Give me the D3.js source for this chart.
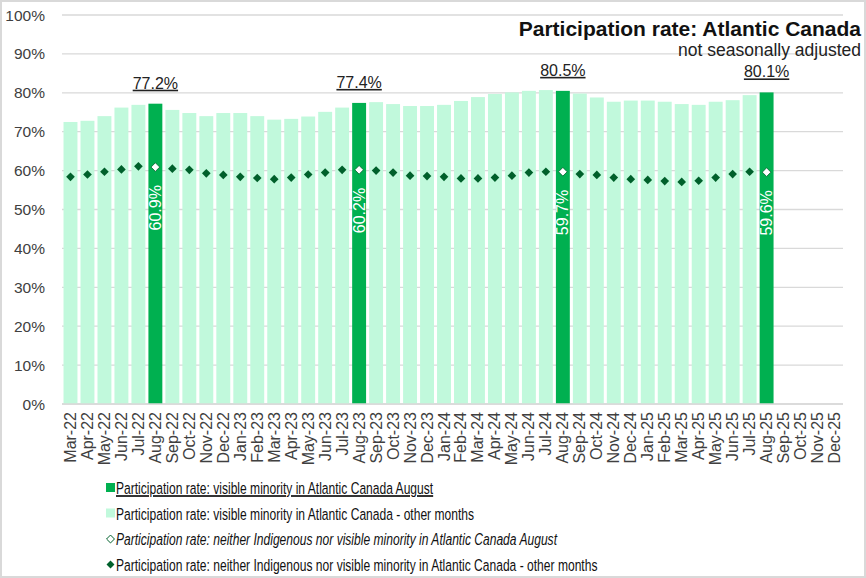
<!DOCTYPE html>
<html>
<head>
<meta charset="utf-8" />
<title>Participation rate: Atlantic Canada</title>
<script src="https://d3js.org/d3.v7.min.js"></script>
<style>
  body { margin: 0; background: #fff; }
  svg { font-family: "Liberation Sans", Arial, sans-serif; }
</style>
</head>
<body>
<script>
  // months on the x axis (Sep-25..Dec-25 have no data yet)
  const months = ["Mar-22","Apr-22","May-22","Jun-22","Jul-22","Aug-22","Sep-22","Oct-22","Nov-22","Dec-22",
    "Jan-23","Feb-23","Mar-23","Apr-23","May-23","Jun-23","Jul-23","Aug-23","Sep-23","Oct-23","Nov-23","Dec-23",
    "Jan-24","Feb-24","Mar-24","Apr-24","May-24","Jun-24","Jul-24","Aug-24","Sep-24","Oct-24","Nov-24","Dec-24",
    "Jan-25","Feb-25","Mar-25","Apr-25","May-25","Jun-25","Jul-25","Aug-25","Sep-25","Oct-25","Nov-25","Dec-25"];

  // visible minority participation rate (bars)
  const visibleMinority = [72.5,72.8,74.0,76.2,76.9,77.2,75.6,74.8,74.0,74.8,
    74.8,74.0,73.1,73.3,73.9,75.1,76.2,77.4,77.6,77.1,76.6,76.6,
    76.9,77.9,78.9,79.7,80.1,80.5,80.7,80.5,79.8,78.8,77.7,78.0,
    78.0,77.7,77.1,76.9,77.7,78.1,79.4,80.1];

  // neither Indigenous nor visible minority (diamonds)
  const neither = [58.4,59.0,59.7,60.3,61.1,60.9,60.5,60.2,59.3,58.9,
    58.4,58.1,57.8,58.2,59.0,59.5,60.2,60.2,60.0,59.5,58.7,58.6,
    58.4,58.0,58.0,58.2,58.7,59.5,59.7,59.7,59.1,58.9,58.2,57.8,
    57.6,57.3,57.1,57.4,58.2,59.1,59.7,59.6];

  const yTicks = [0,10,20,30,40,50,60,70,80,90,100];

  const legendLabels = [
    "Participation rate: visible minority in Atlantic Canada August",
    "Participation rate: visible minority in Atlantic Canada - other months",
    "Participation rate: neither Indigenous nor visible minority in Atlantic Canada August",
    "Participation rate: neither Indigenous nor visible minority in Atlantic Canada - other months"
  ];

  const W = 866, H = 578;
  const darkGreen = "#00b050", lightGreen = "#c1f9dc", markGreen = "#00602b";

  const svg = d3.select("body").append("svg")
    .attr("width", W).attr("height", H);

  // outer chart border
  svg.append("rect")
    .attr("x", 1).attr("y", 1).attr("width", W - 2).attr("height", H - 2)
    .attr("fill", "#fff").attr("stroke", "#d9d9d9").attr("stroke-width", 2);

  const x = d3.scaleBand().domain(months).range([62, 843])
    .paddingInner(0.18).paddingOuter(0.09);
  const y = d3.scaleLinear().domain([0, 100]).range([404, 15]);

  const isAug = m => m.startsWith("Aug");

  // gridlines
  svg.append("g").selectAll("line")
    .data(yTicks)
    .join("line")
    .attr("x1", 62).attr("x2", 843)
    .attr("y1", d => y(d)).attr("y2", d => y(d))
    .attr("stroke", "#d9d9d9").attr("stroke-width", 1.3);

  // y labels
  svg.append("g").selectAll("text")
    .data(yTicks)
    .join("text")
    .attr("x", 45).attr("y", d => y(d) + 5.5)
    .attr("text-anchor", "end")
    .attr("font-size", 15.5).attr("fill", "#404040")
    .text(d => d + "%");

  // bars
  const barData = visibleMinority.map((v, i) => ({ m: months[i], v }));
  svg.append("g").selectAll("rect")
    .data(barData)
    .join("rect")
    .attr("x", d => x(d.m))
    .attr("width", x.bandwidth())
    .attr("y", d => y(d.v))
    .attr("height", d => y(0) - y(d.v))
    .attr("fill", d => isAug(d.m) ? darkGreen : lightGreen);

  // August labels on top of bars
  svg.append("g").selectAll("text")
    .data(barData.filter(d => isAug(d.m)))
    .join("text")
    .attr("x", d => x(d.m) + x.bandwidth() / 2)
    .attr("y", d => y(d.v) - 15)
    .attr("text-anchor", "middle")
    .attr("font-size", 16).attr("fill", "#222")
    .attr("text-decoration", "underline")
    .text(d => d.v.toFixed(1) + "%");

  // diamonds
  const dotData = neither.map((v, i) => ({ m: months[i], v }));
  const diamond = d3.symbol().type(d3.symbolDiamond2).size(48);
  svg.append("g").selectAll("path")
    .data(dotData)
    .join("path")
    .attr("d", diamond)
    .attr("transform", d => `translate(${x(d.m) + x.bandwidth() / 2},${y(d.v)})`)
    .attr("fill", d => isAug(d.m) ? "#fff" : markGreen)
    .attr("stroke", d => isAug(d.m) ? markGreen : "none")
    .attr("stroke-width", 0.8);

  // rotated August diamond labels
  svg.append("g").selectAll("text")
    .data(dotData.filter(d => isAug(d.m)))
    .join("text")
    .attr("transform", d => `translate(${x(d.m) + x.bandwidth() / 2 + 5.5},${y(d.v) + 18}) rotate(-90)`)
    .attr("text-anchor", "end")
    .attr("font-size", 16).attr("fill", "#fff")
    .text(d => d.v.toFixed(1) + "%");

  // x axis line
  svg.append("line")
    .attr("x1", 62).attr("x2", 843).attr("y1", y(0)).attr("y2", y(0))
    .attr("stroke", "#d9d9d9").attr("stroke-width", 1.3);

  // x labels
  svg.append("g").selectAll("text")
    .data(months)
    .join("text")
    .attr("transform", d => `translate(${x(d) + x.bandwidth() / 2 + 5.5},412) rotate(-90)`)
    .attr("text-anchor", "end")
    .attr("font-size", 16).attr("fill", "#404040")
    .text(d => d);

  // title
  svg.append("text")
    .attr("x", 861).attr("y", 36)
    .attr("text-anchor", "end")
    .attr("font-size", 21).attr("font-weight", "bold").attr("fill", "#111")
    .text("Participation rate: Atlantic Canada");
  svg.append("text")
    .attr("x", 861).attr("y", 56)
    .attr("text-anchor", "end")
    .attr("font-size", 17.5).attr("fill", "#222")
    .text("not seasonally adjusted");

  // legend
  const legend = svg.append("g");
  const rows = legend.selectAll("g")
    .data(legendLabels)
    .join("g")
    .attr("transform", (d, i) => `translate(106,${488 + i * 25.5})`);

  rows.each(function(d, i) {
    const g = d3.select(this);
    if (i < 2) {
      g.append("rect").attr("x", 0).attr("y", -5).attr("width", 9).attr("height", 9)
        .attr("fill", i === 0 ? darkGreen : lightGreen);
    } else {
      g.append("path").attr("d", d3.symbol().type(d3.symbolDiamond2).size(40))
        .attr("transform", "translate(4.5,0)")
        .attr("fill", i === 2 ? "#fff" : markGreen)
        .attr("stroke", i === 2 ? markGreen : "none");
    }
    // the legend font in the original is a narrow face; squeeze horizontally
    g.append("text")
      .attr("transform", "translate(10,6) scale(0.71,1)")
      .attr("font-size", 17).attr("fill", "#111")
      .attr("font-style", i === 2 ? "italic" : "normal")
      .attr("text-decoration", i === 0 ? "underline" : "none")
      .text(d);
  });
</script>
</body>
</html>
